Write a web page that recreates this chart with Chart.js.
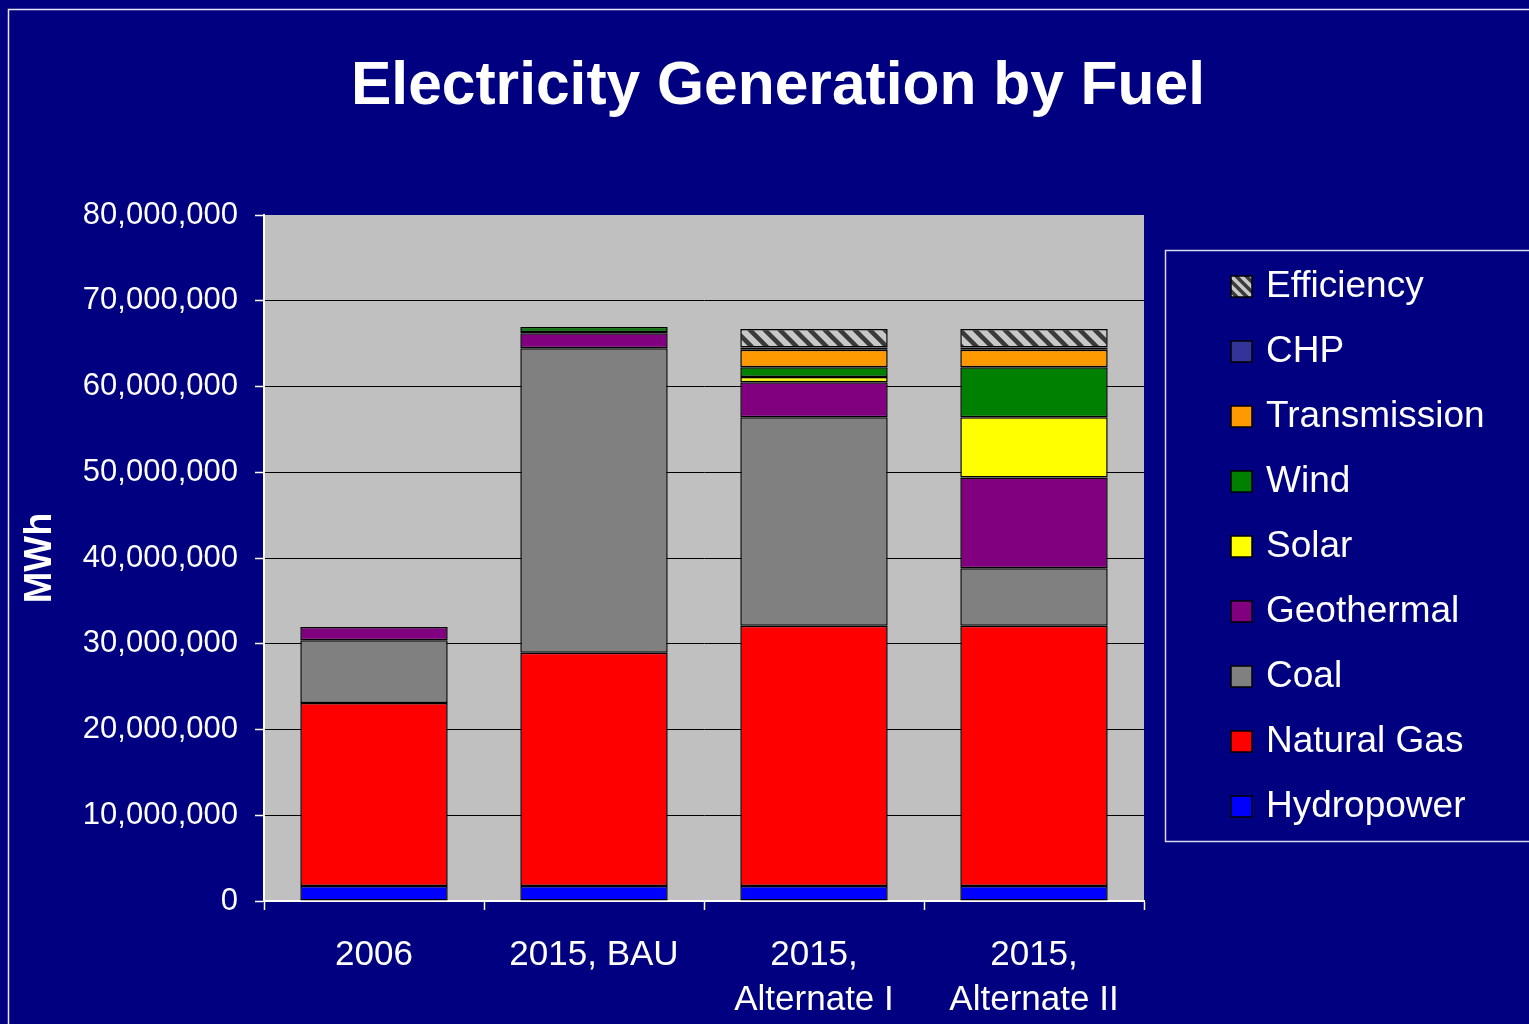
<!DOCTYPE html>
<html>
<head>
<meta charset="utf-8">
<script src="https://cdn.jsdelivr.net/npm/chart.js@4.4.0/dist/chart.umd.min.js"></script>
<style>
html,body{margin:0;padding:0;background:#000080;}
canvas{display:block;}
</style>
</head>
<body>
<canvas id="c" width="1529" height="1024" style="width:1529px;height:1024px"></canvas>
<script>
const titleText = 'Electricity Generation by Fuel';
const yAxisTitle = 'MWh';
const categories = ['2006', '2015, BAU', ['2015,', 'Alternate I'], ['2015,', 'Alternate II']];
const hydropower   = [1750000, 1750000, 1750000, 1750000];
const naturalGas   = [21350000, 27200000, 30350000, 30350000];
const coal         = [7300000, 35500000, 24300000, 6700000];
const geothermal   = [1550000, 1750000, 4100000, 10600000];
const solar        = [null, 150000, 600000, 7000000];
const wind         = [null, 600000, 1150000, 5850000];
const transmission = [null, null, 2050000, 2050000];
const chp          = [null, null, 250000, 250000];
const efficiency   = [null, null, 2150000, 2150000];
const yTicks = [0, 10000000, 20000000, 30000000, 40000000, 50000000, 60000000, 70000000, 80000000];

const FONT = '"Liberation Sans", Arial, Helvetica, sans-serif';

function makeHatch(size, lw) {
  const c = document.createElement('canvas');
  c.width = size; c.height = size;
  const g = c.getContext('2d');
  g.fillStyle = '#c8c8c8';
  g.fillRect(0, 0, size, size);
  g.strokeStyle = '#3a3a3a';
  g.lineWidth = size * lw;
  g.beginPath();
  g.moveTo(-size, 0); g.lineTo(size, 2 * size);
  g.moveTo(0, 0); g.lineTo(size, size);
  g.moveTo(0, -size); g.lineTo(2 * size, size);
  g.stroke();
  return c;
}
const ctx0 = document.getElementById('c').getContext('2d');
const hatch = ctx0.createPattern(makeHatch(15, 0.3), 'repeat');
const hatchLegend = ctx0.createPattern(makeHatch(10, 0.35), 'repeat');

function ds(label, data, color) {
  return {label, data, backgroundColor: color, borderColor: '#000', borderWidth: 1.5,
          borderSkipped: false, barPercentage: 0.67, categoryPercentage: 1.0};
}
const datasets = [
  ds('Hydropower', hydropower, '#0000FF'),
  ds('Natural Gas', naturalGas, '#FF0000'),
  ds('Coal', coal, '#808080'),
  ds('Geothermal', geothermal, '#800080'),
  ds('Solar', solar, '#FFFF00'),
  ds('Wind', wind, '#008000'),
  ds('Transmission', transmission, '#FF9900'),
  ds('CHP', chp, '#333399'),
  ds('Efficiency', efficiency, hatch)
];

const decor = {
  id: 'decor',
  beforeDraw(chart) {
    const c = chart.ctx, a = chart.chartArea;
    c.save();
    c.fillStyle = '#000080';
    c.fillRect(0, 0, chart.width, chart.height);
    c.fillStyle = '#C0C0C0';
    c.fillRect(a.left, a.top, a.right - a.left, a.bottom - a.top);
    c.restore();
  },
  afterDraw(chart) {
    const c = chart.ctx;
    c.save();
    c.strokeStyle = '#e8e8f8';
    c.lineWidth = 1.5;
    c.strokeRect(8.5, 9.5, 1700, 1200);
    c.fillStyle = '#FFFFFF';
    c.font = 'bold 60.5px ' + FONT;
    c.textAlign = 'center';
    c.textBaseline = 'alphabetic';
    c.fillText(titleText, 778, 104);
    c.strokeStyle = '#d8d8f0';
    c.lineWidth = 1.5;
    c.strokeRect(1165.5, 250.5, 500, 591);
    const items = chart.data.datasets.slice().reverse();
    c.font = '37px ' + FONT;
    c.textAlign = 'left';
    c.textBaseline = 'middle';
    items.forEach((d, i) => {
      const y = 286 + i * 65;
      c.fillStyle = d.label === 'Efficiency' ? hatchLegend : d.backgroundColor;
      c.fillRect(1231, y - 10, 21, 21);
      c.strokeStyle = '#000';
      c.lineWidth = 1.5;
      c.strokeRect(1231, y - 10, 21, 21);
      c.fillStyle = '#FFFFFF';
      c.fillText(d.label, 1266, y + 1);
    });
    c.restore();
  }
};

new Chart(document.getElementById('c'), {
  type: 'bar',
  data: {labels: categories, datasets},
  plugins: [decor],
  options: {
    responsive: false,
    animation: false,
    layout: {padding: {top: 215, right: 385, left: 0, bottom: 0}},
    plugins: {legend: {display: false}, tooltip: {enabled: false}, title: {display: false}},
    scales: {
      x: {
        stacked: true,
        offset: true,
        afterFit(s) { s.height = 123; },
        grid: {display: true, drawOnChartArea: false, drawTicks: true, tickLength: 9,
               tickColor: '#FFFFFF', tickWidth: 1.5, offset: true},
        border: {display: true, color: '#FFFFFF', width: 2},
        ticks: {color: '#FFFFFF', font: {family: FONT, size: 35, lineHeight: 1.29}, padding: 23, maxRotation: 0, autoSkip: false}
      },
      y: {
        stacked: true,
        min: 0, max: 80000000,
        afterFit(s) { s.width = 264; },
        afterBuildTicks(s) { s.ticks = yTicks.map(v => ({value: v})); },
        grid: {color: ctx => (ctx.tick && ctx.tick.value === 80000000) ? 'rgba(0,0,0,0)' : '#000000',
               lineWidth: 1, drawTicks: true, tickLength: 9, tickColor: '#FFFFFF', tickWidth: 1.5},
        border: {display: true, color: '#FFFFFF', width: 2},
        ticks: {color: '#FFFFFF', font: {family: FONT, size: 31}, padding: 17,
                callback: v => Number(v).toLocaleString('en-US')},
        title: {display: true, text: yAxisTitle, color: '#FFFFFF',
                font: {family: FONT, size: 38, weight: 'bold'}, padding: {top: 18, bottom: 0}}
      }
    }
  }
});
</script>
</body>
</html>
